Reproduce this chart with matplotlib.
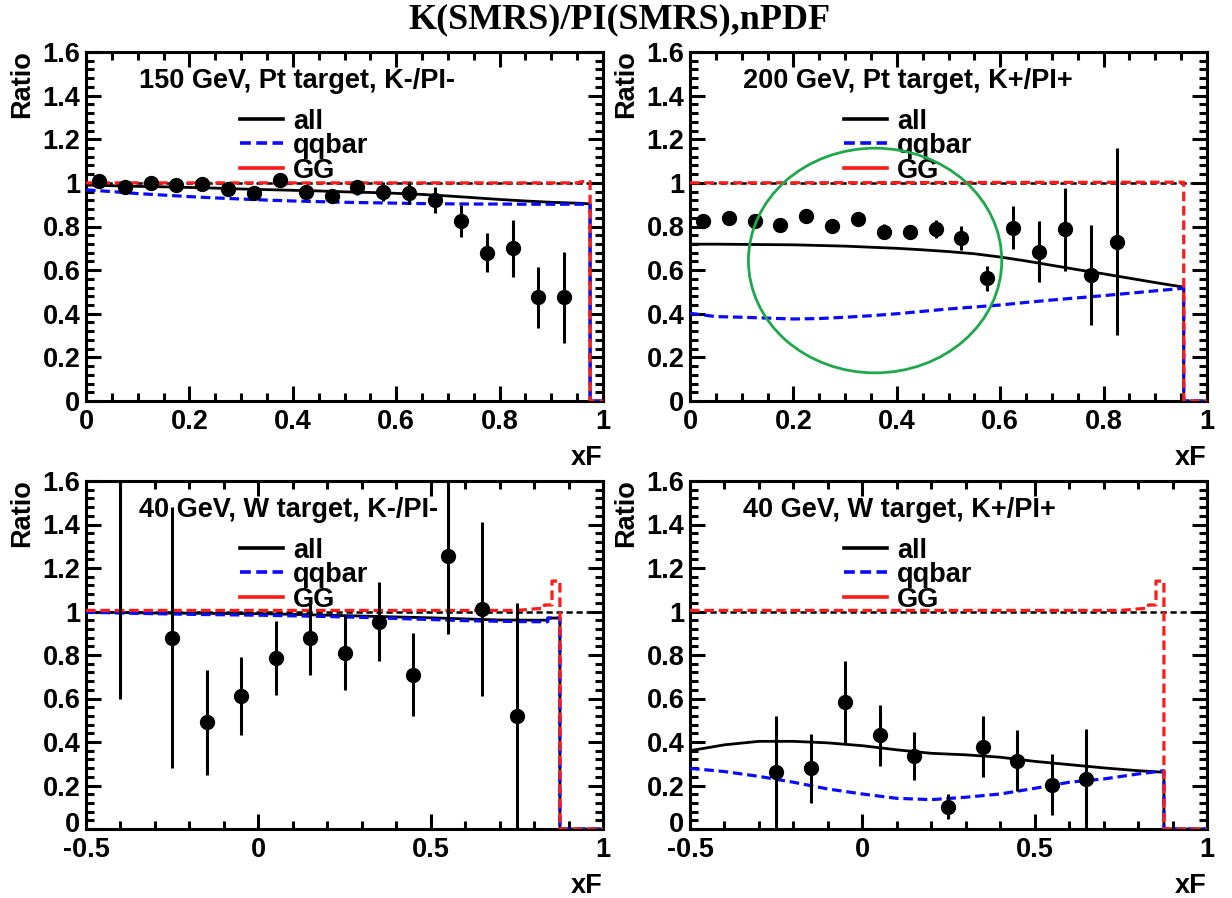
import matplotlib
matplotlib.use("Agg")
import matplotlib.pyplot as plt
import matplotlib.transforms as mtrans
from matplotlib.patches import Ellipse
from matplotlib.ticker import MultipleLocator, FuncFormatter

plt.rcParams['font.family'] = ['Liberation Sans', 'DejaVu Sans']
plt.rcParams['font.weight'] = 'bold'

# ---------------- data ----------------
title = "K(SMRS)/PI(SMRS),nPDF"
labels = ["150 GeV, Pt target, K-/PI-", "200 GeV, Pt target, K+/PI+",
          "40 GeV, W target, K-/PI-", "40 GeV, W target, K+/PI+"]
legend_names = ["all", "qqbar", "GG"]

# Top-left: 150 GeV Pt, K-/PI-
tl_x = [0.025, 0.075, 0.125, 0.175, 0.225, 0.275, 0.325, 0.375, 0.425, 0.475,
        0.525, 0.575, 0.625, 0.675, 0.725, 0.775, 0.825, 0.875, 0.925]
tl_r = [1.01, 0.98, 1.00, 0.99, 0.995, 0.97, 0.955, 1.015, 0.96, 0.94,
        0.98, 0.96, 0.955, 0.92, 0.825, 0.68, 0.70, 0.475, 0.475]
tl_e = [0.015, 0.015, 0.015, 0.015, 0.015, 0.015, 0.02, 0.02, 0.02, 0.025,
        0.035, 0.045, 0.05, 0.06, 0.075, 0.09, 0.13, 0.14, 0.21]
tl_cx = [0, 0.05, 0.1, 0.15, 0.2, 0.25, 0.3, 0.35, 0.4, 0.45, 0.5, 0.55, 0.6,
         0.65, 0.7, 0.75, 0.8, 0.85, 0.9, 0.95, 0.975]
tl_all = [0.990, 0.987, 0.984, 0.982, 0.979, 0.976, 0.972, 0.969, 0.966, 0.963,
          0.959, 0.956, 0.952, 0.947, 0.940, 0.932, 0.924, 0.917, 0.911, 0.907, 0.904]
tl_qq = [0.968, 0.960, 0.951, 0.944, 0.937, 0.931, 0.926, 0.921, 0.917, 0.914,
         0.911, 0.909, 0.907, 0.905, 0.904, 0.903, 0.903, 0.902, 0.902, 0.902, 0.902]
tl_ggx = [0, 0.95, 0.96, 0.975]
tl_gg = [1.0, 1.0, 1.006, 1.006]

# Top-right: 200 GeV Pt, K+/PI+
tr_x = [0.025, 0.075, 0.125, 0.175, 0.225, 0.275, 0.325, 0.375, 0.425, 0.475,
        0.525, 0.575, 0.625, 0.675, 0.725, 0.775, 0.825]
tr_r = [0.823, 0.838, 0.823, 0.808, 0.846, 0.803, 0.835, 0.777, 0.774, 0.789,
        0.746, 0.563, 0.795, 0.685, 0.788, 0.578, 0.731]
tr_e = [0.015, 0.015, 0.015, 0.015, 0.015, 0.015, 0.015, 0.033, 0.03, 0.04,
        0.055, 0.057, 0.10, 0.138, 0.19, 0.23, 0.43]
tr_cx = [0, 0.05, 0.1, 0.15, 0.2, 0.25, 0.3, 0.35, 0.4, 0.45, 0.5, 0.55, 0.6,
         0.65, 0.7, 0.75, 0.8, 0.85, 0.9, 0.955]
tr_all = [0.719, 0.719, 0.718, 0.717, 0.716, 0.713, 0.710, 0.705, 0.700, 0.693,
          0.685, 0.675, 0.660, 0.642, 0.622, 0.602, 0.583, 0.563, 0.543, 0.522]
tr_qq = [0.402, 0.387, 0.384, 0.380, 0.376, 0.378, 0.384, 0.391, 0.400, 0.411,
         0.422, 0.431, 0.440, 0.452, 0.463, 0.473, 0.483, 0.494, 0.505, 0.517]
tr_ggx = [0, 0.94, 0.955]
tr_gg = [1.0, 1.003, 1.003]

# Bottom-left: 40 GeV W, K-/PI-
bl_x = [-0.4, -0.25, -0.15, -0.05, 0.05, 0.15, 0.25, 0.35, 0.45, 0.55, 0.65, 0.75]
bl_r = [1.9, 0.88, 0.49, 0.61, 0.785, 0.877, 0.81, 0.954, 0.709, 1.255, 1.012, 0.518]
bl_e = [1.3, 0.6, 0.24, 0.18, 0.17, 0.17, 0.17, 0.18, 0.19, 0.36, 0.40, 0.52]
bl_cx = [-0.5, -0.4, -0.3, -0.2, -0.1, 0.0, 0.1, 0.2, 0.3, 0.4, 0.5, 0.6, 0.7,
         0.8, 0.84, 0.84, 0.875]
bl_all = [0.997, 0.995, 0.993, 0.992, 0.991, 0.990, 0.987, 0.983, 0.979, 0.975,
          0.971, 0.966, 0.961, 0.960, 0.960, 0.970, 0.970]
bl_qq = [0.997, 0.993, 0.990, 0.987, 0.985, 0.983, 0.980, 0.977, 0.973, 0.968,
         0.963, 0.958, 0.955, 0.953, 0.953, 0.970, 0.970]
bl_ggx = [-0.5, 0.75, 0.8, 0.83, 0.83, 0.852, 0.852, 0.875]
bl_gg = [1.005, 1.005, 1.012, 1.015, 1.03, 1.03, 1.14, 1.14]

# Bottom-right: 40 GeV W, K+/PI+
br_x = [-0.25, -0.15, -0.05, 0.05, 0.15, 0.25, 0.35, 0.45, 0.55, 0.65]
br_r = [0.261, 0.279, 0.583, 0.43, 0.337, 0.103, 0.379, 0.314, 0.204, 0.23]
br_e = [0.26, 0.16, 0.19, 0.14, 0.11, 0.056, 0.14, 0.14, 0.14, 0.23]
br_cx = [-0.5, -0.4, -0.3, -0.2, -0.1, 0.0, 0.1, 0.2, 0.3, 0.4, 0.5, 0.6, 0.7, 0.8, 0.875]
br_all = [0.36, 0.387, 0.403, 0.403, 0.396, 0.383, 0.364, 0.348, 0.341, 0.33,
          0.311, 0.296, 0.281, 0.268, 0.261]
br_qq = [0.279, 0.264, 0.242, 0.215, 0.184, 0.161, 0.141, 0.135, 0.146, 0.161,
         0.187, 0.215, 0.23, 0.253, 0.268]
br_ggx = [-0.5, 0.75, 0.8, 0.83, 0.83, 0.852, 0.852, 0.875]
br_gg = [1.005, 1.005, 1.012, 1.015, 1.03, 1.03, 1.14, 1.14]

# highlight ellipse in top-right panel (data coords)
ell_center = (0.358, 0.644)
ell_w, ell_h = 0.49, 1.03

panels = [
    dict(lab=labels[0], xlim=(0, 1), px=tl_x, pr=tl_r, pe=tl_e, cx=tl_cx, all=tl_all, qq=tl_qq, ggx=tl_ggx, gg=tl_gg),
    dict(lab=labels[1], xlim=(0, 1), px=tr_x, pr=tr_r, pe=tr_e, cx=tr_cx, all=tr_all, qq=tr_qq, ggx=tr_ggx, gg=tr_gg),
    dict(lab=labels[2], xlim=(-0.5, 1), px=bl_x, pr=bl_r, pe=bl_e, cx=bl_cx, all=bl_all, qq=bl_qq, ggx=bl_ggx, gg=bl_gg),
    dict(lab=labels[3], xlim=(-0.5, 1), px=br_x, pr=br_r, pe=br_e, cx=br_cx, all=br_all, qq=br_qq, ggx=br_ggx, gg=br_gg),
]

# ---------------- figure ----------------
W, H = 1232, 898
fig = plt.figure(figsize=(W / 100, H / 100), dpi=100)
fig.patch.set_facecolor('white')

rects = [(86, 52, 603, 401), (690, 52, 1207, 401), (86, 481, 603, 829), (690, 481, 1207, 829)]
FS = 19.5
BLUE = '#0a0aff'
RED = '#ff1a1a'


def fmt(v, pos):
    return "%g" % round(v, 3)


for i, (p, r) in enumerate(zip(panels, rects)):
    l, t, rr, b = r
    ax = fig.add_axes([l / W, 1 - b / H, (rr - l) / W, (b - t) / H])
    x0, x1 = p['xlim']
    ax.set_xlim(x0, x1)
    ax.set_ylim(0, 1.6)
    for s in ax.spines.values():
        s.set_linewidth(2.2)
    if x0 == 0:
        ax.xaxis.set_major_locator(MultipleLocator(0.2))
        ax.xaxis.set_minor_locator(MultipleLocator(0.05))
    else:
        ax.xaxis.set_major_locator(MultipleLocator(0.5))
        ax.xaxis.set_minor_locator(MultipleLocator(0.1))
    ax.yaxis.set_major_locator(MultipleLocator(0.2))
    ax.yaxis.set_minor_locator(MultipleLocator(0.04))
    ax.xaxis.set_major_formatter(FuncFormatter(fmt))
    ax.yaxis.set_major_formatter(FuncFormatter(fmt))
    ax.tick_params(which='both', direction='in', top=True, right=True, width=2.2,
                   labelsize=FS)
    ax.tick_params(axis='y', pad=4)
    ax.tick_params(axis='x', pad=6)
    ax.tick_params(which='major', length=11)
    ax.tick_params(which='minor', length=5.5)
    for lbl in ax.get_xticklabels() + ax.get_yticklabels():
        lbl.set_fontweight('bold')

    # reference line at 1
    ax.plot([x0, x1], [1, 1], color='black', lw=1.8, ls=(0, (2.5, 1.5)), zorder=2)

    # curves with drop to zero at the end
    def draw(xs, ys, **kw):
        xx = list(xs) + [xs[-1], x1]
        yy = list(ys) + [0, 0]
        ax.plot(xx, yy, **kw)

    draw(p['cx'], p['all'], color='black', lw=2.0, zorder=3)
    draw(p['cx'], p['qq'], color=BLUE, lw=2.3, ls=(0, (3, 1.5)), zorder=4)
    draw(p['ggx'], p['gg'], color=RED, lw=2.3, ls=(0, (3, 1.5)), zorder=5)

    # data points
    ax.errorbar(p['px'], p['pr'], yerr=p['pe'], fmt='o', color='black', ms=10,
                elinewidth=2.2, capsize=0, zorder=6)

    # panel label and legend
    ax.text(0.103, 0.918, p['lab'], transform=ax.transAxes, fontsize=FS,
            fontweight='bold', ha='left', va='center')
    leg_y = [0.808, 0.739, 0.668]
    styles = [dict(color='black', ls='-'), dict(color=BLUE, ls=(0, (3, 1.5))),
              dict(color=RED, ls='-')]
    for name, yy, st in zip(legend_names, leg_y, styles):
        ax.plot([0.297, 0.381], [yy, yy], transform=ax.transAxes, lw=2.6, **st,
                clip_on=False, zorder=7)
        ax.text(0.40, yy, name, transform=ax.transAxes, fontsize=FS,
                fontweight='bold', ha='left', va='center_baseline')

    ax.text(1.0, -0.164, 'xF', transform=ax.transAxes, fontsize=FS,
            fontweight='bold', ha='right', va='center')
    ax.text(-0.124, 1.005, 'Ratio', transform=ax.transAxes, fontsize=FS,
            fontweight='bold', ha='center', va='top', rotation=90)

    if i == 1:
        ax.add_patch(Ellipse(ell_center, ell_w, ell_h, fill=False,
                             edgecolor='#1ea84b', lw=2.0, zorder=8))

    # bottom panels: nudge the y "0" label up so it does not collide with "-0.5"
    if x0 < 0:
        fig.canvas.draw()
        for lbl in ax.get_yticklabels():
            if lbl.get_text() == '0':
                lbl.set_transform(lbl.get_transform() +
                                  mtrans.ScaledTranslation(0, 5 / 72, fig.dpi_scale_trans))

fig.text(0.5025, 0.978, title, fontsize=26, fontweight='bold',
         family=['Liberation Serif', 'DejaVu Serif'], ha='center', va='center')

fig.savefig('out.png', dpi=100, facecolor='white')
